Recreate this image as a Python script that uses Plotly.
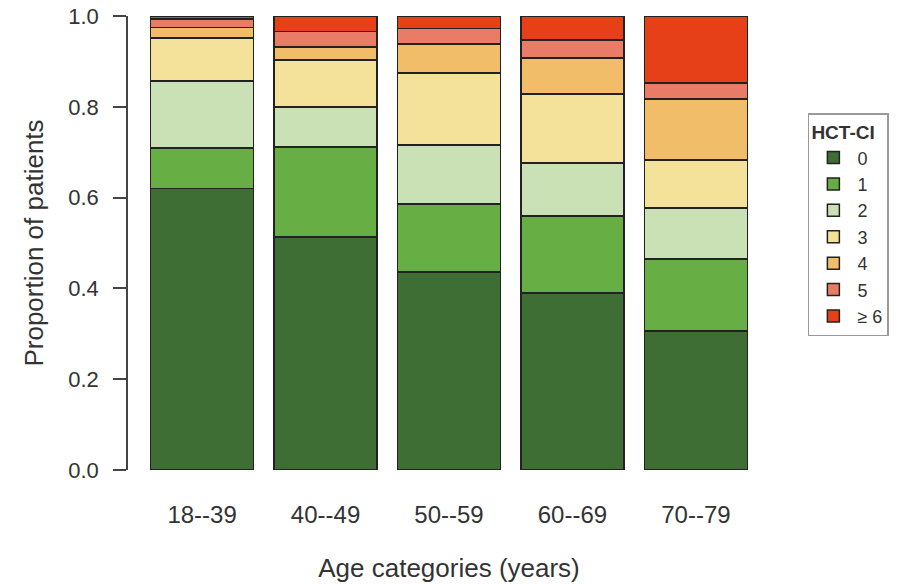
import plotly.graph_objects as go

age_groups = ["18--39", "40--49", "50--59", "60--69", "70--79"]
hct_levels = ["0", "1", "2", "3", "4", "5", "≥ 6"]
prop_0 = [0.620, 0.513, 0.436, 0.390, 0.306]
prop_1 = [0.089, 0.198, 0.150, 0.170, 0.159]
prop_2 = [0.148, 0.089, 0.130, 0.116, 0.112]
prop_3 = [0.095, 0.103, 0.158, 0.152, 0.106]
prop_4 = [0.023, 0.029, 0.064, 0.079, 0.134]
prop_5 = [0.018, 0.034, 0.035, 0.040, 0.035]
prop_6 = [0.007, 0.034, 0.027, 0.053, 0.148]
series = [prop_0, prop_1, prop_2, prop_3, prop_4, prop_5, prop_6]
colors = ["#3E6E34", "#67AF44", "#CAE0B5", "#F5E29A", "#F2BD68", "#E97C66", "#E64019"]

fig = go.Figure()
for name, vals, col in zip(hct_levels, series, colors):
    fig.add_trace(go.Bar(
        x=age_groups, y=vals, name=name,
        marker=dict(color=col, line=dict(color="#222222", width=1.5)),
        width=0.835,
    ))

font = "Liberation Sans, Arial, sans-serif"
fig.update_layout(
    barmode="stack",
    width=907, height=584,
    margin=dict(l=128, r=137, t=16, b=114, autoexpand=False),
    paper_bgcolor="white", plot_bgcolor="white",
    font=dict(family=font, size=22, color="#333333"),
    xaxis=dict(
        range=[-0.6, 4.6], showline=False, ticks="", showgrid=False,
        automargin=False,
        ticklabelstandoff=28, tickfont=dict(size=24),
        title=dict(text="Age categories (years)", standoff=31, font=dict(size=26)),
    ),
    yaxis=dict(
        range=[0, 1], tickvals=[0, 0.2, 0.4, 0.6, 0.8, 1.0],
        ticktext=["0.0", "0.2", "0.4", "0.6", "0.8", "1.0"],
        automargin=False, ticklabeloverflow="allow",
        showline=True, linecolor="#444444", linewidth=1.5,
        ticks="outside", ticklen=13, tickcolor="#444444", tickwidth=1.5,
        ticklabelstandoff=10,
        showgrid=False, zeroline=False, tickfont=dict(size=22),
        title=dict(text="Proportion of patients", standoff=17, font=dict(size=26)),
    ),
    legend=dict(
        x=1.059, y=0.786, xanchor="left", yanchor="top",
        traceorder="normal",
        title=dict(text="<b>HCT-CI</b>", font=dict(size=19, color="#333333")),
        bordercolor="#999999", borderwidth=1.5,
        font=dict(size=18), tracegroupgap=0, itemwidth=38,
    ),
)

fig.write_html("out.html", config={"displayModeBar": False},
               post_script="document.body.style.margin='0px';")
